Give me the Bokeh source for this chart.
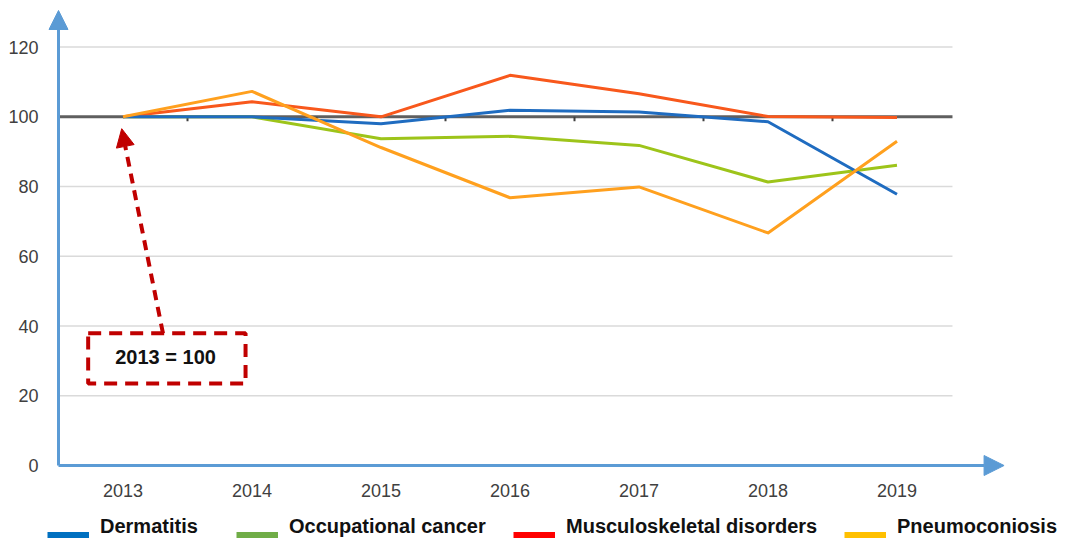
from bokeh.plotting import figure
from bokeh.models import (Arrow, NormalHead, BoxAnnotation, Label, Legend, LegendItem, FixedTicker)
from bokeh.embed import file_html
from bokeh.resources import INLINE

# ---------------- data ----------------
years = [2013, 2014, 2015, 2016, 2017, 2018, 2019]
dermatitis = [100, 100, 98.0, 101.9, 101.4, 98.6, 77.8]
occupational_cancer = [100, 100, 93.7, 94.4, 91.8, 81.3, 86.1]
musculoskeletal = [100, 104.3, 100.0, 111.9, 106.6, 100.1, 99.8]
pneumoconiosis = [100, 107.3, 91.2, 76.8, 79.9, 66.7, 93.0]
y_ticks = [0, 20, 40, 60, 80, 100, 120]
series_names = ["Dermatitis", "Occupational cancer", "Musculoskeletal disorders", "Pneumoconiosis"]
base_value = 100
note_text = "2013 = 100"

# ---------------- styles ----------------
line_colors = ["#1F6CC0", "#9DC41A", "#F8581C", "#FFA01E"]
legend_colors = ["#0070C0", "#70AD47", "#FF0000", "#FFC000"]
axis_color = "#5B9BD5"
FONT = "Liberation Sans"

W, H = 1065, 538
# pixel geometry: axis origin at canvas (58, 465); 129 px per year, 3.4866 px per unit
PX_X, PX_Y, OX, OY = 129.0, 3.4866, 58, 465
x_origin = years[0] - 0.5
x_range = (x_origin - OX / PX_X, x_origin + (W - OX) / PX_X)
y_range = (-(H - OY) / PX_Y, OY / PX_Y)

p = figure(width=W, height=H, output_backend="svg", toolbar_location=None,
           x_range=x_range, y_range=y_range,
           min_border=0, min_border_left=0, min_border_right=0, min_border_top=0, min_border_bottom=0)
p.outline_line_color = None
p.grid.visible = False
p.background_fill_color = "white"
p.border_fill_color = "white"

# axes crossing at (x_origin, 0)
p.xaxis.fixed_location = 0
p.yaxis.fixed_location = x_origin
p.xaxis.ticker = FixedTicker(ticks=years)
p.yaxis.ticker = FixedTicker(ticks=y_ticks)
for ax in (p.xaxis, p.yaxis):
    ax.axis_line_color = axis_color
    ax.axis_line_width = 3
    ax.major_tick_line_color = None
    ax.minor_tick_line_color = None
    ax.major_label_text_font = FONT
    ax.major_label_text_font_size = "18px"
    ax.major_label_text_color = "#404040"
p.xaxis.major_label_standoff = 12
p.yaxis.major_label_standoff = 14
p.xaxis.bounds = (x_origin, years[-1] + 0.6)
p.yaxis.bounds = (0, 125)

# gridlines (end at same place as the 100 line)
grid_end = years[-1] + 0.43
grid_vals = [v for v in y_ticks if v not in (0, base_value)]
p.segment(x0=[x_origin] * len(grid_vals), y0=grid_vals, x1=[grid_end] * len(grid_vals), y1=grid_vals,
          line_color="#DADADA", line_width=1.5)

# base line at 100 with small category ticks
p.segment(x0=[x_origin], y0=[base_value], x1=[grid_end], y1=[base_value], line_color="#5F5F5F", line_width=3)
bnds = [y + 0.5 for y in years[:-1]]
p.segment(x0=bnds, y0=[base_value] * len(bnds), x1=bnds, y1=[base_value - 1.3] * len(bnds),
          line_color="#404040", line_width=2)

# series
series = [dermatitis, occupational_cancer, musculoskeletal, pneumoconiosis]
for i in [1, 2, 0, 3]:
    p.line(years, series[i], line_color=line_colors[i], line_width=3, line_join="round")

# axis arrows
p.add_layout(Arrow(end=NormalHead(size=19, fill_color=axis_color, line_color=axis_color),
                   x_start=x_origin, y_start=124, x_end=x_origin, y_end=130.5,
                   line_color=axis_color, line_width=3))
p.add_layout(Arrow(end=NormalHead(size=20, fill_color=axis_color, line_color=axis_color),
                   x_start=years[-1] + 0.55, y_start=0, x_end=years[-1] + 0.83, y_end=0,
                   line_color=axis_color, line_width=3))

# annotation box + arrow
red = "#C00000"
p.add_layout(BoxAnnotation(left=2012.73, right=2013.95, top=37.9, bottom=23.5,
                           fill_alpha=0, line_color=red, line_alpha=1, line_width=4, line_dash="13 8",
                           level="annotation"))
p.add_layout(Label(x=2013.33, y=31.0, text=note_text, text_align="center", text_baseline="middle",
                   text_font=FONT, text_font_style="bold", text_font_size="20px", text_color="#111111"))
p.add_layout(Arrow(end=NormalHead(size=18, fill_color=red, line_color=red),
                   x_start=2013.31, y_start=37.9, x_end=2012.99, y_end=96.6,
                   line_color=red, line_width=4, line_dash="10 7"))

# legend: per series a text legend and a swatch legend (swatch sits a bit below the text, as in the source)
legend_x = [47, 236, 513, 844]
nan = float("nan")
common = dict(orientation="horizontal", glyph_width=42, padding=0, margin=0, spacing=0,
              border_line_color=None, background_fill_alpha=0, label_standoff=11)
for i, name in enumerate(series_names):
    r_swatch = p.line(x=[nan], y=[nan], line_color=legend_colors[i], line_width=7)
    r_blank = p.line(x=[nan], y=[nan], line_color=legend_colors[i], line_alpha=0, line_width=7)
    p.add_layout(Legend(items=[LegendItem(label=name, renderers=[r_blank])],
                        location=(legend_x[i], 0.5), glyph_height=8, label_height=8,
                        label_text_font=FONT, label_text_font_style="bold", label_text_font_size="20px",
                        label_text_color="#111111", **common), "center")
    p.add_layout(Legend(items=[LegendItem(label=" ", renderers=[r_swatch])],
                        location=(legend_x[i], -1), glyph_height=8, label_height=8,
                        label_text_font_size="1px", **common), "center")

open("out.html", "w").write(file_html(p, INLINE))
